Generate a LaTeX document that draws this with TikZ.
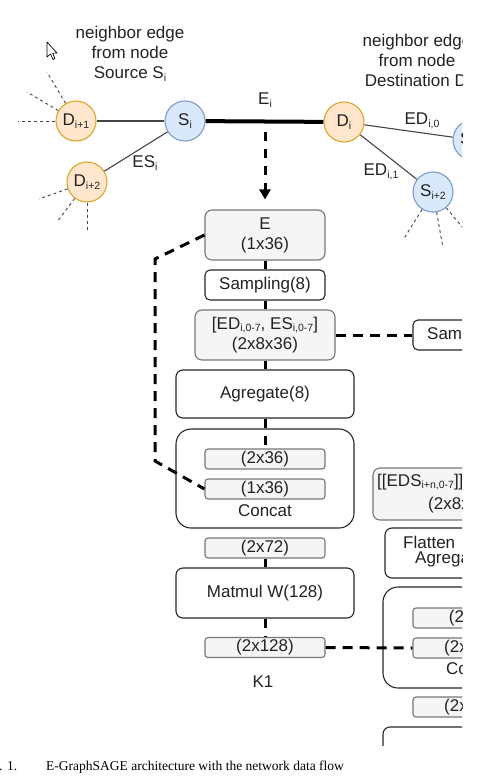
\documentclass[tikz,border=0pt]{standalone}
\usepackage{fontspec}
\setmainfont{Liberation Sans}
\newfontfamily\capfont{Liberation Serif}
\usetikzlibrary{arrows.meta}
\definecolor{orfill}{HTML}{FFE6CC}
\definecolor{orline}{HTML}{DDA62A}
\definecolor{blfill}{HTML}{DAE8FC}
\definecolor{blline}{HTML}{7E9CCB}
\definecolor{greyfill}{HTML}{F5F5F5}
\definecolor{greyline}{HTML}{777777}
\definecolor{edgecol}{HTML}{444444}
\definecolor{txtcol}{HTML}{222222}
\newcommand{\subx}[1]{\raisebox{-2.5pt}{\fontsize{10.5}{12}\selectfont #1}}
\tikzset{
  base/.style={font=\fontsize{17}{20}\selectfont, inner sep=0pt, text=txtcol},
  orn/.style={base, circle, minimum size=40pt, fill=orfill, draw=orline, line width=1.1pt},
  blu/.style={base, circle, minimum size=40pt, fill=blfill, draw=blline, line width=1.1pt},
  edgeline/.style={draw=edgecol, line width=1.1pt},
  nbr/.style={draw=edgecol, line width=0.9pt, dash pattern=on 3pt off 3pt},
  boxw/.style={base, draw=black!85, line width=1.1pt, fill=white, rounded corners=7pt, align=center},
  boxg/.style={base, draw=greyline, line width=1.1pt, fill=greyfill, rounded corners=7pt, align=center},
  barg/.style={boxg, rounded corners=3pt, minimum width=120pt, minimum height=20pt},
  flow/.style={line width=3pt, dash pattern=on 9pt off 8pt},
  flowlong/.style={line width=3pt, dash pattern=on 10pt off 7pt},
  lbl/.style={base, align=center},
}
\begin{document}
\begin{tikzpicture}[x=1pt,y=-1pt]
\useasboundingbox (0,0) rectangle (480,784);
\begin{scope}
\clip (0,0) rectangle (462,745);

% cursor
\draw[fill=white, draw=black, line width=0.7pt, line join=round]
  (47,42) -- (47,57) -- (50.5,54) -- (53,59.5) -- (55,58.6) -- (52.6,53.2) -- (57,53) -- cycle;

% titles
\node[lbl] (srclab) at (130,54) {neighbor edge\\from node\\Source S\subx{i}};
\node[lbl] (dstlab) at (417,62) {neighbor edge\\from node\\Destination D\subx{i}};

% graph nodes
\node[orn] (Dp1) at (76,121) {D\subx{i+1}};
\node[blu] (Si) at (185,121) {S\subx{i}};
\node[orn] (Dp2) at (87,182) {D\subx{i+2}};
\node[orn] (Di) at (344,122) {D\subx{i}};
\node[blu] (Sr) at (473,140) {S\subx{i+1}};
\node[blu] (Sp2) at (433,192) {S\subx{i+2}};

% neighbour stubs
\coordinate (n1) at (18,121);
\coordinate (n2) at (27,92);
\coordinate (n3) at (47,72);
\coordinate (n4) at (39,199);
\coordinate (n5) at (57,222);
\coordinate (n6) at (87,230);
\coordinate (n7) at (403,240);
\coordinate (n8) at (443,248);
\coordinate (n9) at (463,228);
\draw[nbr] (Dp1) -- (n1);
\draw[nbr] (Dp1) -- (n2);
\draw[nbr] (Dp1) -- (n3);
\draw[nbr] (Dp2) -- (n4);
\draw[nbr] (Dp2) -- (n5);
\draw[nbr] (Dp2) -- (n6);
\draw[nbr] (Sp2) -- (n7);
\draw[nbr] (Sp2) -- (n8);
\draw[nbr] (Sp2) -- (n9);

% edges
\draw[edgeline] (Dp1) -- (Si);
\draw[edgeline] (Si) -- (Dp2);
\draw[line width=4pt] (Si) -- (Di);
\draw[edgeline] (Di) -- (Sr);
\draw[edgeline] (Di) -- (Sp2);
\node[lbl] (Elab) at (265,100) {E\subx{i}};
\node[lbl] (ESlab) at (145,163) {ES\subx{i}};
\node[lbl] (ED0lab) at (422,121) {ED\subx{i,0}};
\node[lbl] (ED1lab) at (381,172) {ED\subx{i,1}};

% left flow column
\node[boxg, minimum width=120pt, minimum height=50pt] (Ebox) at (265,235) {E\\(1x36)};
\node[boxw, minimum width=120pt, minimum height=30pt, rounded corners=5pt] (Samp) at (265,285) {Sampling(8)};
\node[boxg, minimum width=140pt, minimum height=50pt] (EDbox) at (265,335) {[ED\subx{i,0-7}, ES\subx{i,0-7}]\\(2x8x36)};
\node[boxw, minimum width=178pt, minimum height=48pt] (Agg) at (265,394) {Agregate(8)};
\node[boxw, minimum width=178pt, minimum height=99pt, rounded corners=15pt] (Conc) at (265,478.5) {};
\node[barg] (b236) at (265,459) {(2x36)};
\node[barg] (b136) at (265,489) {(1x36)};
\node[lbl] (conclab) at (265,511) {Concat};
\node[barg] (b272) at (265,548) {(2x72)};
\node[boxw, minimum width=178pt, minimum height=50pt] (Mat) at (265,593) {Matmul W(128)};
\node[barg] (b2128) at (265,647.5) {(2x128)};
\node[lbl] (K1) at (263,682) {K1};

% right flow column (cut off at the picture's edge)
\node[boxw, minimum width=120pt, minimum height=30pt, rounded corners=5pt] (SamR) at (473,335) {Sampling(8)};
\node[boxg, minimum width=200pt, minimum height=52pt] (EDSR) at (473,494) {};
\node[base, anchor=west] (EDSt1) at (377,482) {[[EDS\subx{i+n,0-7}]]};
\node[base, anchor=west] (EDSt2) at (428,505) {(2x8x36)};
\node[boxw, minimum width=176pt, minimum height=50pt] (FlatR) at (473,553) {};
\node[base, anchor=west] (Flt1) at (403,542) {Flatten};
\node[base, anchor=west] (Flt2) at (415,559) {Agregate};
\node[boxw, minimum width=180pt, minimum height=101pt, rounded corners=15pt] (ConcR) at (473,637.5) {};
\node[barg] (bR1) at (473,618) {(2x36)};
\node[barg] (bR2) at (473,648) {(2x128)};
\node[lbl] (concRlab) at (473,669) {Concat};
\node[barg] (bR3) at (473,707) {(2x164)};
\node[boxw, minimum width=180pt, minimum height=50pt] (botR) at (473,752) {};

% flow connectors
\coordinate (ea) at (265,121);
\draw[flow, -{Triangle[width=11pt,length=10pt]}, shorten <=11pt, shorten >=10pt] (ea) -- (Ebox.north);
\draw[flow] (Ebox.south) -- (Samp.north);
\draw[flow] (Samp.south) -- (EDbox.north);
\draw[flow] (EDbox.south) -- (Agg.north);
\draw[flow] (Agg.south) -- (b236.north);
\draw[flow] (b272.south) -- (Mat.north);
\draw[flow] (Mat.south) -- (b2128.north);
\coordinate (c1) at (155,259);
\coordinate (c2) at (155,461);
\draw[flowlong] (Ebox.west) -- (c1) -- (c2) -- (b136.west);
\draw[flowlong] (EDbox.east) -- (SamR.west);
\draw[flowlong] (b2128.east) -- (bR2.west);
\end{scope}

\begin{scope}
\clip (0,745) rectangle (480,784);
\node[anchor=base west, inner sep=0pt, font=\capfont\fontsize{13.5}{16}\selectfont, text=black] (cap) at (-19,770)
  {Fig. 1.\hspace{29pt}E-GraphSAGE architecture with the network data flow};
\end{scope}
\end{tikzpicture}
\end{document}
